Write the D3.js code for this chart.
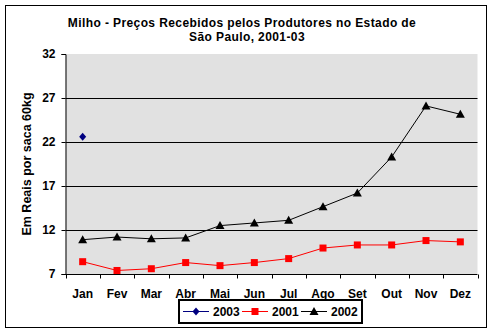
<!DOCTYPE html>
<html>
<head>
<meta charset="utf-8">
<script src="https://cdn.jsdelivr.net/npm/d3@7"></script>
<style>
  html, body { margin: 0; padding: 0; background: #fff; }
  svg { display: block; }
  text { font-family: Arial, "Liberation Sans", sans-serif; font-weight: bold; fill: #000; }
</style>
</head>
<body>
<svg id="chart" width="493" height="334"></svg>
<script>
const months = ["Jan","Fev","Mar","Abr","Mai","Jun","Jul","Ago","Set","Out","Nov","Dez"];
const values2003 = [22.6, null, null, null, null, null, null, null, null, null, null, null];
const values2001 = [8.4, 7.4, 7.6, 8.3, 7.95, 8.3, 8.75, 9.95, 10.3, 10.3, 10.8, 10.65];
const values2002 = [10.9, 11.2, 11.0, 11.1, 12.5, 12.8, 13.1, 14.65, 16.2, 20.3, 26.1, 25.15];
const yTicks = [7, 12, 17, 22, 27, 32];
const titleLines = ["Milho - Preços Recebidos pelos Produtores no Estado de", "São Paulo, 2001-03"];
const yTitle = "Em Reais por saca 60kg";

const series = [
  {name: "2003", values: values2003, color: "#000080", marker: "diamond"},
  {name: "2001", values: values2001, color: "#FF0000", marker: "square"},
  {name: "2002", values: values2002, color: "#000000", marker: "triangle"}
];

const svg = d3.select("#chart");
const plot = {left: 65.5, right: 477.5, top: 54, bottom: 274};

// outer border
svg.append("rect").attr("x", 5.5).attr("y", 5.5).attr("width", 481).attr("height", 322)
  .attr("fill", "#fff").attr("stroke", "#000").attr("stroke-width", 1);

const x = d3.scaleBand().domain(months).range([plot.left, plot.right]).padding(0);
const y = d3.scaleLinear().domain([7, 32]).range([plot.bottom, plot.top]);

// plot background
svg.append("rect").attr("x", plot.left).attr("y", plot.top)
  .attr("width", plot.right - plot.left).attr("height", plot.bottom - plot.top)
  .attr("fill", "#E1E1E1");

// gridlines
svg.append("g").selectAll("line").data(yTicks.filter(d => d > 7 && d < 32)).join("line")
  .attr("x1", plot.left).attr("x2", plot.right)
  .attr("y1", d => Math.round(y(d)) + 0.5).attr("y2", d => Math.round(y(d)) + 0.5)
  .attr("stroke", "#000").attr("stroke-width", 1);

// y axis
const yAxis = d3.axisLeft(y).tickValues(yTicks).tickSize(4).tickPadding(6).tickFormat(d3.format("d"));
const gy = svg.append("g").attr("transform", `translate(${plot.left},0)`).call(yAxis);
gy.select(".domain").attr("stroke", "#000");
gy.selectAll(".tick line").attr("stroke", "#000");
gy.selectAll(".tick text").style("font-size", "12px").attr("font-family", null).attr("fill", "#000");

// x axis with ticks at band boundaries
const gx = svg.append("g").attr("transform", `translate(0,${plot.bottom + 0.5})`);
gx.append("line").attr("x1", plot.left).attr("x2", plot.right).attr("stroke", "#000");
const bounds = months.map(m => x(m)).concat([x(months[months.length - 1]) + x.bandwidth()]);
gx.selectAll("line.tk").data(bounds).join("line").attr("class", "tk")
  .attr("x1", d => Math.round(d) + 0.5).attr("x2", d => Math.round(d) + 0.5)
  .attr("y1", 0).attr("y2", 4).attr("stroke", "#000");
gx.selectAll("text").data(months).join("text")
  .attr("x", d => x(d) + x.bandwidth() / 2).attr("y", 23)
  .attr("text-anchor", "middle").style("font-size", "12px").text(d => d);

// title
svg.append("g").selectAll("text").data(titleLines).join("text")
  .attr("x", (d, i) => i === 0 ? 242 : 247).attr("y", (d, i) => 26.5 + i * 14)
  .attr("text-anchor", "middle").style("font-size", "12px").style("letter-spacing", "0.4px").text(d => d);

// y title
svg.append("text").attr("transform", "translate(31,164) rotate(-90)")
  .attr("text-anchor", "middle").style("font-size", "12.5px").text(yTitle);

// markers
function drawMarker(g, type, color, cx, cy) {
  if (type === "square") {
    g.append("rect").attr("x", cx - 3.5).attr("y", cy - 3.5).attr("width", 7).attr("height", 7).attr("fill", color);
  } else if (type === "triangle") {
    g.append("path").attr("d", `M${cx},${cy - 4.5}L${cx + 4.5},${cy + 3.5}L${cx - 4.5},${cy + 3.5}Z`).attr("fill", color);
  } else {
    g.append("path").attr("d", `M${cx},${cy - 4}L${cx + 3.5},${cy}L${cx},${cy + 4}L${cx - 3.5},${cy}Z`).attr("fill", color);
  }
}

const line = d3.line().defined(d => d.v != null).x(d => x(d.m) + x.bandwidth() / 2).y(d => y(d.v));
series.forEach(s => {
  const pts = months.map((m, i) => ({m, v: s.values[i]}));
  const g = svg.append("g");
  g.append("path").datum(pts).attr("d", line).attr("fill", "none").attr("stroke", s.color).attr("stroke-width", 1);
  pts.filter(p => p.v != null).forEach(p => drawMarker(g, s.marker, s.color, x(p.m) + x.bandwidth() / 2, y(p.v)));
});

// legend
const lg = svg.append("g");
lg.append("rect").attr("x", 179).attr("y", 300).attr("width", 183).attr("height", 23)
  .attr("fill", "#fff").attr("stroke", "#000").attr("stroke-width", 2);
const legendX = [183, 242, 301];
series.forEach((s, i) => {
  const lx = legendX[i], ly = 311.5;
  lg.append("line").attr("x1", lx).attr("x2", lx + 26).attr("y1", ly).attr("y2", ly).attr("stroke", s.color);
  drawMarker(lg, s.marker, s.color, lx + 13, ly);
  lg.append("text").attr("x", lx + 30).attr("y", ly + 4.5).style("font-size", "12px").text(s.name);
});
</script>
</body>
</html>
